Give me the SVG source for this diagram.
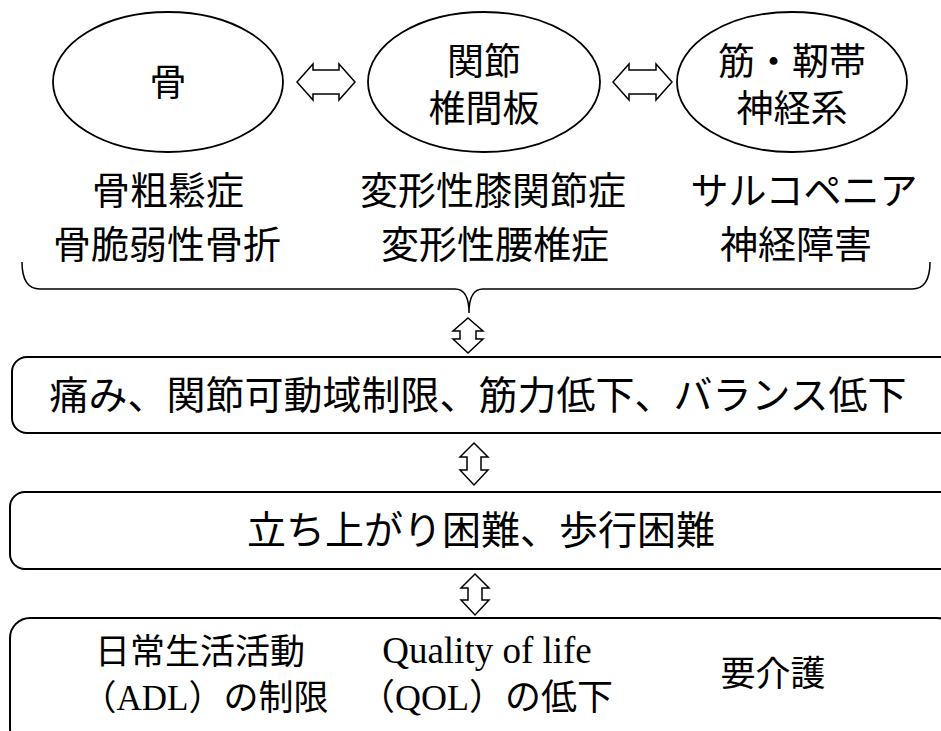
<svg xmlns="http://www.w3.org/2000/svg" width="941" height="731" viewBox="0 0 941 731">
<defs>
<style>
.shape{fill:#fff;stroke:#000;stroke-width:1.8}
.box{fill:#fff;stroke:#000;stroke-width:2}
.arr{fill:#fff;stroke:#000;stroke-width:1.5;stroke-linejoin:miter}
.brace{fill:none;stroke:#000;stroke-width:1.5}
.t{font-family:"Noto Sans CJK JP","Noto Sans CJK SC",sans-serif;fill:#000;text-anchor:middle}
.s{font-family:"Liberation Serif","Noto Sans CJK JP",serif}
</style>
</defs>
<rect width="941" height="731" fill="#fff"/>
<g id="connectors">
<path class="arr" d="M297,82 L313,64 L313,70 L339,70 L339,64 L355,82 L339,100 L339,94 L313,94 L313,100 Z"/>
<path class="arr" d="M613,82 L629,64 L629,70 L656,70 L656,64 L672,82 L656,100 L656,94 L629,94 L629,100 Z"/>
<path class="brace" d="M22,262 Q22,289 40,289 L455,289 Q469,289 469,313 Q469,289 483,289 L912,289 Q930,289 930,262"/>
<path class="arr" d="M468,318 L483,331 L476,331 L476,339 L483,339 L468,353 L453,339 L460,339 L460,331 L453,331 Z"/>
<path class="arr" d="M474,443 L488,457 L481,457 L481,470 L488,470 L474,485 L460,470 L467,470 L467,457 L460,457 Z"/>
<path class="arr" d="M475,574 L489,588 L482,588 L482,600 L489,600 L475,615 L461,600 L468,600 L468,588 L461,588 Z"/>
</g>
<g id="node-bone">
<ellipse class="shape" cx="168" cy="82" rx="115" ry="70"/>
<text class="t" x="168" y="96" font-size="37">骨</text>
</g>
<g id="node-joint">
<ellipse class="shape" cx="484" cy="82" rx="116" ry="70"/>
<text class="t" x="484" y="75" font-size="37">関節</text>
<text class="t" x="484" y="122" font-size="37">椎間板</text>
</g>
<g id="node-muscle">
<ellipse class="shape" cx="792" cy="82" rx="115" ry="70"/>
<text class="t" x="792" y="75" font-size="37">筋・靭帯</text>
<text class="t" x="792" y="122" font-size="37">神経系</text>
</g>
<g id="label-bone">
<text class="t" x="168" y="204" font-size="38">骨粗鬆症</text>
<text class="t" x="167" y="258" font-size="38">骨脆弱性骨折</text>
</g>
<g id="label-joint">
<text class="t" x="493" y="204" font-size="38">変形性膝関節症</text>
<text class="t" x="495" y="258" font-size="38">変形性腰椎症</text>
</g>
<g id="label-muscle">
<text class="t" x="804" y="204" font-size="38">サルコペニア</text>
<text class="t" x="796" y="258" font-size="38">神経障害</text>
</g>
<g id="node-impairment">
<rect class="box" x="12" y="357" width="945" height="76" rx="15"/>
<text class="t" x="478" y="409" font-size="39">痛み、関節可動域制限、筋力低下、バランス低下</text>
</g>
<g id="node-disability">
<rect class="box" x="10" y="492" width="947" height="77" rx="15"/>
<text class="t" x="481" y="544" font-size="39">立ち上がり困難、歩行困難</text>
</g>
<g id="node-outcome">
<rect class="box" x="10" y="618" width="947" height="130" rx="20"/>
<text class="t" x="200" y="664" font-size="35">日常生活活動</text>
<text class="t" x="205" y="710" font-size="35">（<tspan class="s">ADL</tspan>）の制限</text>
<text class="t s" x="487" y="663" font-size="37">Quality of life</text>
<text class="t" x="486" y="710" font-size="36">（<tspan class="s">QOL</tspan>）の低下</text>
<text class="t" x="773" y="686" font-size="35">要介護</text>
</g>
</svg>
